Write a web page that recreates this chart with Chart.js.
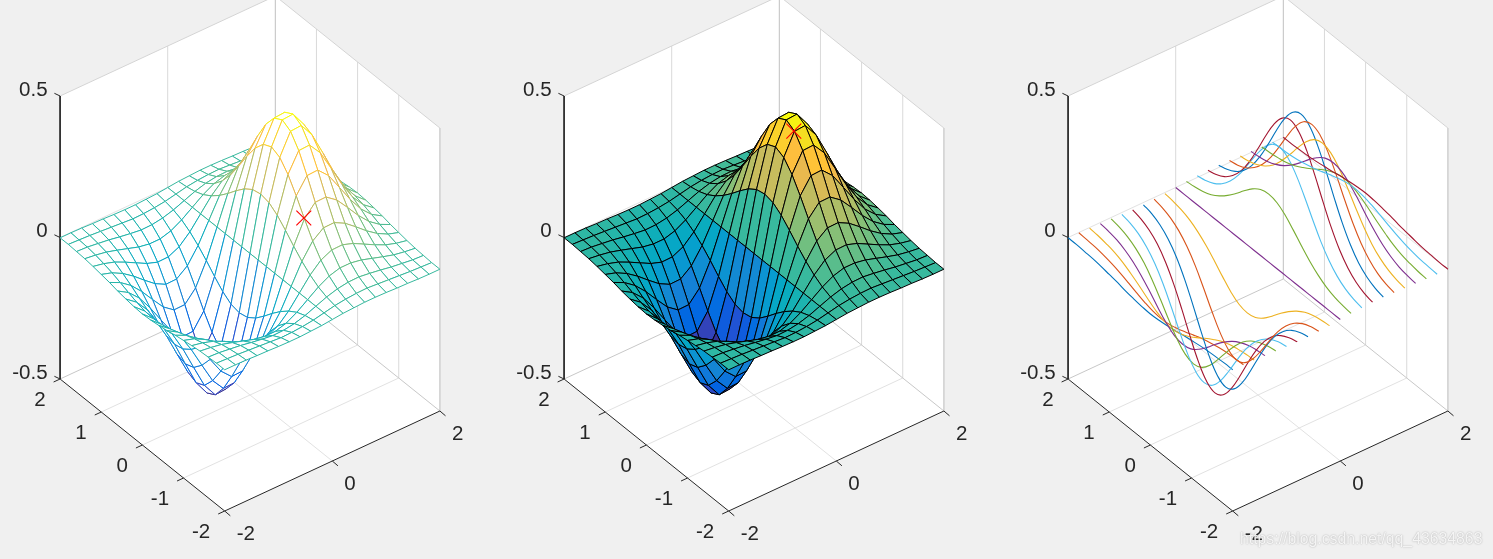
<!DOCTYPE html>
<html>
<head>
<meta charset="utf-8">
<script src="https://cdn.jsdelivr.net/npm/chart.js@4"></script>
<style>
html,body{margin:0;padding:0;background:#f0f0f0;overflow:hidden;width:1493px;height:559px}
canvas{position:absolute;top:0;display:block}
</style>
</head>
<body>
<canvas id="p0" width="504" height="559" style="left:0"></canvas>
<canvas id="p1" width="504" height="559" style="left:504px"></canvas>
<canvas id="p2" width="485" height="559" style="left:1008px"></canvas>
<script>
const xValues=[-2,-1.8,-1.6,-1.4,-1.2,-1,-0.8,-0.6,-0.4,-0.2,0,0.2,0.4,0.6,0.8,1,1.2,1.4,1.6,1.8,2];
const yValues=[-2,-1.8,-1.6,-1.4,-1.2,-1,-0.8,-0.6,-0.4,-0.2,0,0.2,0.4,0.6,0.8,1,1.2,1.4,1.6,1.8,2];
// one row per x value, each row running over yValues
const zRows=[
[-0.001,-0.001,-0.003,-0.005,-0.009,-0.014,-0.019,-0.026,-0.031,-0.035,-0.037,-0.035,-0.031,-0.026,-0.019,-0.014,-0.009,-0.005,-0.003,-0.001,-0.001],
[-0.001,-0.003,-0.005,-0.010,-0.017,-0.026,-0.037,-0.049,-0.060,-0.068,-0.071,-0.068,-0.060,-0.049,-0.037,-0.026,-0.017,-0.010,-0.005,-0.003,-0.001],
[-0.002,-0.005,-0.010,-0.017,-0.029,-0.046,-0.065,-0.086,-0.105,-0.119,-0.124,-0.119,-0.105,-0.086,-0.065,-0.046,-0.029,-0.017,-0.010,-0.005,-0.002],
[-0.004,-0.008,-0.015,-0.028,-0.047,-0.073,-0.104,-0.138,-0.168,-0.190,-0.197,-0.190,-0.168,-0.138,-0.104,-0.073,-0.047,-0.028,-0.015,-0.008,-0.004],
[-0.005,-0.011,-0.022,-0.040,-0.067,-0.105,-0.150,-0.198,-0.242,-0.273,-0.284,-0.273,-0.242,-0.198,-0.150,-0.105,-0.067,-0.040,-0.022,-0.011,-0.005],
[-0.007,-0.014,-0.028,-0.052,-0.087,-0.135,-0.194,-0.257,-0.314,-0.354,-0.368,-0.354,-0.314,-0.257,-0.194,-0.135,-0.087,-0.052,-0.028,-0.014,-0.007],
[-0.008,-0.017,-0.033,-0.059,-0.100,-0.155,-0.222,-0.294,-0.359,-0.405,-0.422,-0.405,-0.359,-0.294,-0.222,-0.155,-0.100,-0.059,-0.033,-0.017,-0.008],
[-0.008,-0.016,-0.032,-0.059,-0.099,-0.154,-0.221,-0.292,-0.357,-0.402,-0.419,-0.402,-0.357,-0.292,-0.221,-0.154,-0.099,-0.059,-0.032,-0.016,-0.008],
[-0.006,-0.013,-0.026,-0.048,-0.081,-0.125,-0.180,-0.238,-0.290,-0.327,-0.341,-0.327,-0.290,-0.238,-0.180,-0.125,-0.081,-0.048,-0.026,-0.013,-0.006],
[-0.004,-0.008,-0.015,-0.027,-0.046,-0.071,-0.101,-0.134,-0.164,-0.185,-0.192,-0.185,-0.164,-0.134,-0.101,-0.071,-0.046,-0.027,-0.015,-0.008,-0.004],
[0,0,0,0,0,0,0,0,0,0,0,0,0,0,0,0,0,0,0,0,0],
[0.004,0.008,0.015,0.027,0.046,0.071,0.101,0.134,0.164,0.185,0.192,0.185,0.164,0.134,0.101,0.071,0.046,0.027,0.015,0.008,0.004],
[0.006,0.013,0.026,0.048,0.081,0.125,0.180,0.238,0.290,0.327,0.341,0.327,0.290,0.238,0.180,0.125,0.081,0.048,0.026,0.013,0.006],
[0.008,0.016,0.032,0.059,0.099,0.154,0.221,0.292,0.357,0.402,0.419,0.402,0.357,0.292,0.221,0.154,0.099,0.059,0.032,0.016,0.008],
[0.008,0.017,0.033,0.059,0.100,0.155,0.222,0.294,0.359,0.405,0.422,0.405,0.359,0.294,0.222,0.155,0.100,0.059,0.033,0.017,0.008],
[0.007,0.014,0.028,0.052,0.087,0.135,0.194,0.257,0.314,0.354,0.368,0.354,0.314,0.257,0.194,0.135,0.087,0.052,0.028,0.014,0.007],
[0.005,0.011,0.022,0.040,0.067,0.105,0.150,0.198,0.242,0.273,0.284,0.273,0.242,0.198,0.150,0.105,0.067,0.040,0.022,0.011,0.005],
[0.004,0.008,0.015,0.028,0.047,0.073,0.104,0.138,0.168,0.190,0.197,0.190,0.168,0.138,0.104,0.073,0.047,0.028,0.015,0.008,0.004],
[0.002,0.005,0.010,0.017,0.029,0.046,0.065,0.086,0.105,0.119,0.124,0.119,0.105,0.086,0.065,0.046,0.029,0.017,0.010,0.005,0.002],
[0.001,0.003,0.005,0.010,0.017,0.026,0.037,0.049,0.060,0.068,0.071,0.068,0.060,0.049,0.037,0.026,0.017,0.010,0.005,0.003,0.001],
[0.001,0.001,0.003,0.005,0.009,0.014,0.019,0.026,0.031,0.035,0.037,0.035,0.031,0.026,0.019,0.014,0.009,0.005,0.003,0.001,0.001]
];
const xTicks=[-2,0,2];
const yTicks=[-2,-1,0,1,2];
const zTicks=[-0.5,0,0.5];
const xTickLabels=['-2','0','2'];
const yTickLabels=['-2','-1','0','1','2'];
const zTickLabels=['-0.5','0','0.5'];
const markerPanel0=[1,0,0.037];
const markerPanel1=[0.74,0,0.367];
const lineColors=['#0072BD','#D95319','#EDB120','#7E2F8E','#77AC30','#4DBEEE','#A2142F'];
const watermark='https://blog.csdn.net/qq_43634863';
const parula=[[.2081,.1663,.5292],[.2116,.1898,.5777],[.2123,.2138,.6270],[.2081,.2386,.6771],[.1959,.2645,.7279],[.1707,.2919,.7792],[.1253,.3242,.8303],[.0591,.3598,.8683],[.0117,.3875,.8820],[.0060,.4086,.8828],[.0165,.4266,.8786],[.0329,.4430,.8720],[.0498,.4586,.8641],[.0629,.4737,.8554],[.0723,.4887,.8467],[.0779,.5040,.8384],[.0793,.5200,.8312],[.0749,.5375,.8263],[.0641,.5570,.8240],[.0488,.5772,.8228],[.0343,.5966,.8199],[.0265,.6137,.8135],[.0239,.6287,.8038],[.0231,.6418,.7913],[.0228,.6535,.7768],[.0267,.6642,.7607],[.0384,.6743,.7436],[.0590,.6838,.7254],[.0843,.6928,.7062],[.1133,.7015,.6859],[.1453,.7098,.6646],[.1801,.7177,.6424],[.2178,.7250,.6193],[.2586,.7317,.5954],[.3022,.7376,.5712],[.3482,.7424,.5473],[.3953,.7459,.5244],[.4420,.7481,.5033],[.4871,.7491,.4840],[.5300,.7491,.4661],[.5709,.7485,.4494],[.6099,.7473,.4337],[.6473,.7456,.4188],[.6834,.7435,.4044],[.7184,.7411,.3905],[.7525,.7384,.3768],[.7858,.7356,.3633],[.8185,.7327,.3498],[.8507,.7299,.3360],[.8824,.7274,.3217],[.9139,.7258,.3063],[.9450,.7261,.2886],[.9739,.7314,.2666],[.9938,.7455,.2403],[.9990,.7653,.2164],[.9955,.7861,.1967],[.9880,.8066,.1794],[.9789,.8271,.1633],[.9697,.8481,.1475],[.9626,.8705,.1309],[.9589,.8949,.1132],[.9598,.9218,.0948],[.9661,.9514,.0755],[.9763,.9831,.0538]];

const C_MIN=-0.422, C_MAX=0.422;
const colourOf=z=>{
  const k=Math.max(0,Math.min(63,Math.floor((z-C_MIN)/(C_MAX-C_MIN)*64)));
  const c=parula[k];
  return `rgb(${Math.round(c[0]*255)},${Math.round(c[1]*255)},${Math.round(c[2]*255)})`;
};
// orthographic view of the MATLAB axes box
const project=(x,y,z)=>({x:250+53.8*x-41.15*y, y:253.5-25*x-33*y-283*z});

const seg=(a,b,color,width)=>({data:[a,b],showLine:true,pointRadius:0,borderColor:color,borderWidth:width,fill:false,tension:0});
const P=project;

function boxDatasets(){
  const d=[];
  d.push({data:[P(-2,2,.5),P(2,2,.5),P(2,-2,.5),P(2,-2,-.5),P(-2,-2,-.5),P(-2,2,-.5),P(-2,2,.5)],showLine:true,pointRadius:0,borderWidth:0,borderColor:'#fff',backgroundColor:'#fff',fill:'shape',tension:0});
  const grid='#e2e2e2', wall='#d9d9d9', edge='#d4d4d4';
  for(const v of yTicks.slice(1,-1)){
    d.push(seg(P(-2,v,-.5),P(2,v,-.5),grid,1));
    d.push(seg(P(2,v,-.5),P(2,v,.5),wall,1));
  }
  d.push(seg(P(0,-2,-.5),P(0,2,-.5),grid,1));
  d.push(seg(P(0,2,-.5),P(0,2,.5),wall,1));
  d.push(seg(P(-2,2,0),P(2,2,0),grid,1));
  d.push(seg(P(2,2,0),P(2,-2,0),grid,1));
  d.push(seg(P(-2,2,.5),P(2,2,.5),edge,1));
  d.push(seg(P(2,2,.5),P(2,-2,.5),edge,1));
  d.push(seg(P(2,-2,.5),P(2,-2,-.5),edge,1));
  d.push(seg(P(-2,2,-.5),P(2,2,-.5),'#c8c8c8',1));
  d.push(seg(P(2,2,-.5),P(2,-2,-.5),'#c8c8c8',1));
  d.push(seg(P(2,2,-.5),P(2,2,.5),'#c0c0c0',1));
  return d;
}
function axisDatasets(){
  const d=[], dark='#262626', off=(p,dx,dy)=>({x:p.x+dx,y:p.y+dy});
  d.push(seg(P(-2,2,.5),P(-2,2,-.5),dark,1));
  d.push(seg(P(-2,2,-.5),P(-2,-2,-.5),dark,1));
  d.push(seg(P(-2,-2,-.5),P(2,-2,-.5),dark,1));
  for(const v of zTicks){const p=P(-2,2,v);d.push(seg(p,off(p,-5.7,-2.7),dark,1));}
  for(const v of yTicks){const p=P(-2,v,-.5);d.push(seg(p,off(p,-6.5,3),dark,1));}
  for(const v of xTicks){const p=P(v,-2,-.5);d.push(seg(p,off(p,5.6,4.8),dark,1));}
  return d;
}
function quadDatasets(mode){
  const d=[];
  for(let i=xValues.length-2;i>=0;i--){
    for(let j=yValues.length-2;j>=0;j--){
      const v=(a,b,c)=>Object.assign(P(xValues[a],yValues[b],zRows[a][b]),{c:colourOf(zRows[c[0]][c[1]])});
      const data=[v(i,j,[i,j]),v(i+1,j,[i+1,j]),v(i+1,j+1,[i,j+1]),v(i,j+1,[i,j]),v(i,j,[i,j])];
      const base={data,showLine:true,pointRadius:0,fill:'shape',tension:0};
      if(mode==='mesh'){
        // white face first, then its coloured edges on top
        d.push(Object.assign({},base,{backgroundColor:'#fff',borderColor:'#fff',borderWidth:0}));
        d.push({data,showLine:true,pointRadius:0,fill:false,tension:0,borderWidth:1,borderColor:data[0].c,
          segment:{borderColor:c=>c.chart.data.datasets[c.datasetIndex].data[c.p0DataIndex].c}});
      }else{
        base.borderWidth=1;
        base.backgroundColor=colourOf(zRows[i][j]);
        base.borderColor='#000';
        d.push(base);
      }
    }
  }
  return d;
}
function lineDatasets(){
  return xValues.map((xv,i)=>({
    data:yValues.map((yv,j)=>P(xv,yv,zRows[i][j])),
    showLine:true,pointRadius:0,borderWidth:1.1,fill:false,tension:0.4,
    borderColor:lineColors[i%lineColors.length]
  }));
}
const markerDataset=m=>({data:[P(m[0],m[1],m[2])],showLine:false,pointStyle:'crossRot',pointRadius:10.5,pointBorderWidth:1.1,pointBorderColor:'#ff0000',pointBackgroundColor:'#ff0000'});

const textPlugin=withMark=>({id:'axisText',afterDraw(chart){
  const {ctx,scales:{x:sx,y:sy}}=chart;
  const put=(p,dx,dy,t,align)=>{ctx.textAlign=align;ctx.fillText(t,sx.getPixelForValue(p.x)+dx,sy.getPixelForValue(p.y)+dy);};
  ctx.save();
  ctx.font='20.5px "Liberation Sans", Arial, sans-serif';
  ctx.fillStyle='#262626';ctx.textBaseline='middle';
  zTicks.forEach((v,k)=>put(P(-2,2,v),-12.5,-6,zTickLabels[k],'right'));
  yTicks.forEach((v,k)=>put(P(-2,v,-.5),-14.5,21.5,yTickLabels[k],'right'));
  xTicks.forEach((v,k)=>put(P(v,-2,-.5),12,23.5,xTickLabels[k],'left'));
  if(withMark){
    ctx.font='15.8px "Liberation Sans", Arial, sans-serif';
    ctx.textAlign='left';
    ctx.shadowColor='rgba(110,110,110,.75)';ctx.shadowBlur=1.5;
    ctx.fillStyle='rgba(255,255,255,.85)';
    ctx.fillText(watermark,232,540);
  }
  ctx.restore();
}});

function draw(id,layers,widthPx,withMark){
  const all=layers.flat();
  all.forEach((d,k)=>{d.order=all.length-k;});
  new Chart(document.getElementById(id),{
    type:'scatter',
    data:{datasets:all},
    plugins:[textPlugin(withMark)],
    options:{
      responsive:false,animation:false,events:[],
      layout:{padding:0,autoPadding:false},
      scales:{
        x:{type:'linear',min:0,max:widthPx,display:false},
        y:{type:'linear',min:0,max:559,reverse:true,display:false}
      },
      plugins:{legend:{display:false},tooltip:{enabled:false},filler:{drawTime:'beforeDatasetDraw'}}
    }
  });
}
draw('p0',[boxDatasets(),axisDatasets(),quadDatasets('mesh'),[markerDataset(markerPanel0)]],504,false);
draw('p1',[boxDatasets(),axisDatasets(),quadDatasets('surf'),[markerDataset(markerPanel1)]],504,false);
draw('p2',[boxDatasets(),axisDatasets(),lineDatasets()],485,true);
</script>
</body>
</html>
